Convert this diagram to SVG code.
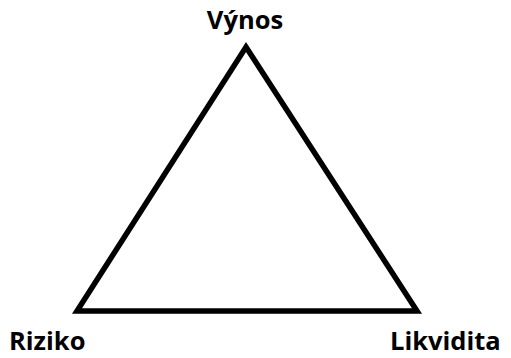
<svg xmlns="http://www.w3.org/2000/svg" width="511" height="358" viewBox="0 0 511 358">
<style>
.lbl{font-family:"Open Sans","Liberation Sans",sans-serif;font-weight:bold;font-size:25.5px;fill:#000}
.edge{fill:none;stroke:#000;stroke-width:5.5;stroke-linejoin:miter}
</style>
<rect width="511" height="358" fill="#fff"/>
<g id="connectors">
<path class="edge" d="M246,47 L417,311 L77,311 Z"/>
</g>
<g id="vynos"><text class="lbl" x="245" y="29" text-anchor="middle">Výnos</text></g>
<g id="riziko"><text class="lbl" x="9" y="350">Riziko</text></g>
<g id="likvidita"><text class="lbl" x="390" y="350">Likvidita</text></g>
</svg>
